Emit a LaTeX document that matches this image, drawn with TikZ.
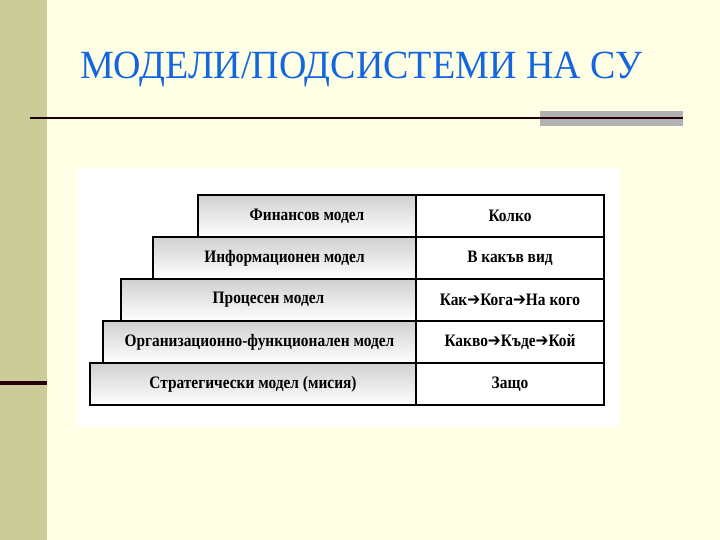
\documentclass[tikz,border=0pt]{standalone}
\usepackage{fontspec}
\setmainfont{Liberation Serif}
\newfontfamily\arrowfont{DejaVu Sans}
\definecolor{bg}{HTML}{FFFFE6}
\definecolor{strip}{HTML}{CCCC99}
\definecolor{titleblue}{HTML}{1466E0}
\definecolor{cellgray}{HTML}{D0D0D0}
\newcommand{\ar}{{\arrowfont\bfseries\char"2794}}
\tikzset{
  lcell/.style={draw=black, line width=1.3pt, top color=cellgray, bottom color=white},
  rcell/.style={draw=black, line width=1.3pt, fill=white},
  celltext/.style={font=\bfseries\fontsize{17.5}{20}\selectfont, inner sep=0pt, xscale=0.88}
}
\begin{document}
\begin{tikzpicture}[x=1pt,y=-1pt]
\useasboundingbox (0,0) rectangle (720,540);
\fill[bg] (0,0) rectangle (720,540);
\fill[strip] (0,0) rectangle (47,540);
\fill[black!80!purple] (0,381) rectangle (47,385);
\fill[black!30] (540,111) rectangle (683,126);
\draw[line width=1.5pt, black!85!purple] (30,118) -- (683,118);
\node[anchor=west, text=titleblue, font=\fontsize{40}{44}\selectfont, inner sep=0pt, xscale=0.95] (title) at (80,70) {МОДЕЛИ/ПОДСИСТЕМИ НА СУ};
\fill[white] (77,168) rectangle (620,427);
\foreach \i/\xl/\yt/\lt/\rt in {
  1/198/195/{Финансов модел}/{Колко},
  2/153/237/{Информационен модел}/{В какъв вид},
  3/121/279/{Процесен модел}/{Как\ar Кога\ar На кого},
  4/103/321/{Организационно-функционален модел}/{Какво\ar Къде\ar Кой},
  5/90/363/{Стратегически модел (мисия)}/{Защо}} {
  \path[lcell] (\xl,\yt) rectangle (416,\yt+42);
  \path[rcell] (416,\yt) rectangle (604,\yt+42);
  \node[celltext] (l\i) at ({(\xl+416)/2},\yt+21) {\lt};
  \node[celltext] (r\i) at (510,\yt+21) {\rt};
}
\end{tikzpicture}
\end{document}
